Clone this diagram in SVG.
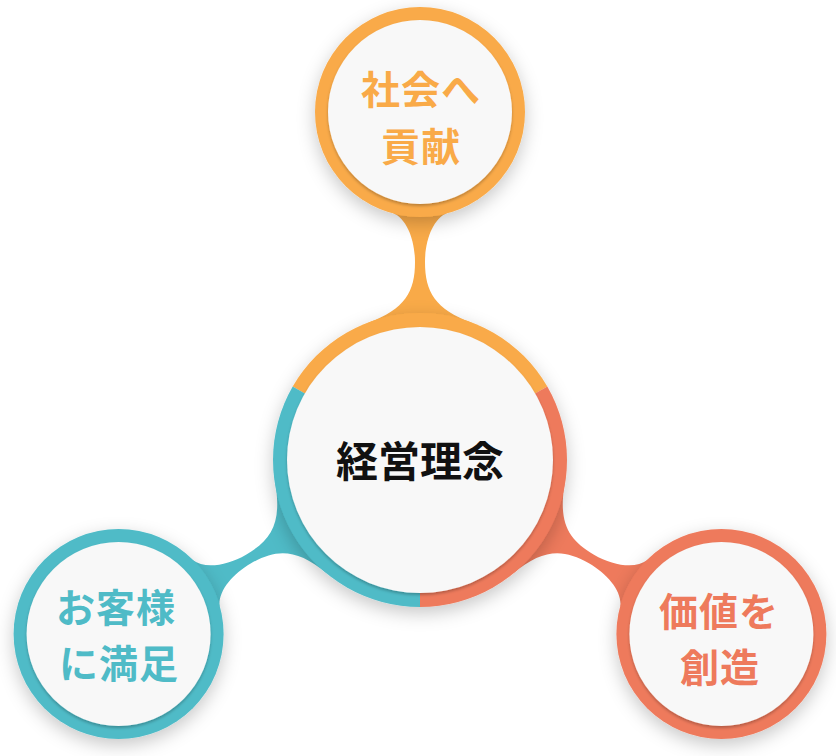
<svg xmlns="http://www.w3.org/2000/svg" width="836" height="756" viewBox="0 0 836 756">
  <defs>
    <filter id="shadow" x="-30%" y="-30%" width="160%" height="160%">
      <feDropShadow dx="0" dy="6" stdDeviation="9" flood-color="#000" flood-opacity="0.22"/>
    </filter>
    <filter id="inner" x="-10%" y="-10%" width="120%" height="120%">
      <feDropShadow dx="0" dy="2" stdDeviation="1.5" flood-color="#000" flood-opacity="0.25"/>
    </filter>
    <path id="neck" d="M368,323 C405,309 415,292 415,262 C415,240 407,219 393,213 L447,213 C433,219 425,240 425,262 C425,292 435,309 472,323 Z"/>
  </defs>
  <style>
    .orange { fill: #F9AA48; }
    .teal { fill: #4FBBC7; }
    .red { fill: #EE7A5C; }
    .disc { fill: #F8F8F8; }
    .lbl { font-family: "Noto Sans CJK JP", "Noto Sans", sans-serif; font-size: 39px; font-weight: 700; text-anchor: middle; letter-spacing: 1px; }
    .main { font-size: 42px; letter-spacing: 0; }
  </style>
  <rect width="836" height="756" fill="#FFFFFF"/>

  <g id="connectors">
    <use href="#neck" class="orange"/>
    <use href="#neck" class="teal" transform="rotate(-120 420 460)"/>
    <use href="#neck" class="red" transform="rotate(120 420 460)"/>
  </g>

  <g id="node-center">
    <g filter="url(#shadow)">
      <path class="orange" d="M420,460 L292.70,386.5 A147,147 0 0 1 547.30,386.5 Z"/>
      <path class="red" d="M420,460 L547.30,386.5 A147,147 0 0 1 420,607 Z"/>
      <path class="teal" d="M420,460 L420,607 A147,147 0 0 1 292.70,386.5 Z"/>
    </g>
    <circle class="disc" cx="420" cy="460" r="133" filter="url(#inner)"/>
    <text class="lbl main" x="420" y="477" fill="#111111">経営理念</text>
  </g>

  <g id="node-top">
    <circle class="orange" cx="420" cy="112" r="105" filter="url(#shadow)"/>
    <circle class="disc" cx="420" cy="112" r="92" filter="url(#inner)"/>
    <text class="lbl" fill="#F9AA48"><tspan x="421" y="104">社会へ</tspan><tspan x="421" y="160.5">貢献</tspan></text>
  </g>

  <g id="node-left">
    <circle class="teal" cx="118.6" cy="634" r="105" filter="url(#shadow)"/>
    <circle class="disc" cx="118.6" cy="634" r="92" filter="url(#inner)"/>
    <text class="lbl" fill="#4FBBC7"><tspan x="116" y="621.5">お客様</tspan><tspan x="119" y="678">に満足</tspan></text>
  </g>

  <g id="node-right">
    <circle class="red" cx="721.4" cy="634" r="105" filter="url(#shadow)"/>
    <circle class="disc" cx="721.4" cy="634" r="92" filter="url(#inner)"/>
    <text class="lbl" fill="#EE7A5C"><tspan x="719" y="625.5">価値を</tspan><tspan x="720" y="682">創造</tspan></text>
  </g>
</svg>
